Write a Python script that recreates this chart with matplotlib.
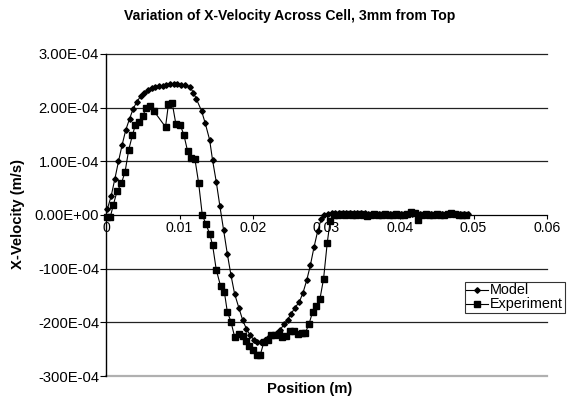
import matplotlib
matplotlib.use("Agg")
import matplotlib.pyplot as plt
from matplotlib.ticker import FixedLocator, FixedFormatter

plt.rcParams['font.family'] = ['Liberation Sans', 'DejaVu Sans']

# ---- data (velocity in units of 1e-4 m/s) ----
model_x = [0.0002, 0.0007, 0.0012, 0.0017, 0.0022, 0.0027, 0.0032, 0.0037, 0.0042, 0.0047,
           0.0052, 0.0057, 0.0062, 0.0067, 0.0072, 0.0077, 0.0082, 0.0087, 0.0092, 0.0097,
           0.0102, 0.0107, 0.0114, 0.0119, 0.0123, 0.0130, 0.0135, 0.0141, 0.0145, 0.0150,
           0.0155, 0.0160, 0.0165, 0.0170, 0.0175, 0.0181, 0.0186, 0.0191, 0.0196, 0.0201,
           0.0206, 0.0211, 0.0216, 0.0222, 0.0227, 0.0232, 0.0237, 0.0242, 0.0247, 0.0252,
           0.0257, 0.0263, 0.0268, 0.0273, 0.0278, 0.0283, 0.0288, 0.0293, 0.0297,
           0.0302, 0.0307, 0.0312, 0.0317, 0.0322, 0.0327, 0.0332, 0.0337, 0.0342, 0.0347,
           0.0352, 0.0357, 0.0362, 0.0367, 0.0372, 0.0377, 0.0382, 0.0387, 0.0392, 0.0397,
           0.0402, 0.0407, 0.0412, 0.0417, 0.0422, 0.0427, 0.0432, 0.0437, 0.0442, 0.0447,
           0.0452, 0.0457, 0.0462, 0.0467, 0.0472, 0.0477, 0.0482, 0.0487, 0.0492]
model_v = [0.12, 0.35, 0.67, 1.00, 1.31, 1.59, 1.79, 1.98, 2.11, 2.21,
           2.28, 2.33, 2.36, 2.38, 2.40, 2.41, 2.43, 2.44, 2.44, 2.45,
           2.43, 2.42, 2.39, 2.28, 2.16, 1.94, 1.71, 1.40, 1.02, 0.62,
           0.16, -0.28, -0.72, -1.12, -1.47, -1.74, -1.96, -2.12, -2.24, -2.32,
           -2.36, -2.36, -2.33, -2.28, -2.23, -2.19, -2.14, -2.04, -1.95, -1.84,
           -1.73, -1.62, -1.45, -1.22, -0.94, -0.60, -0.30, -0.07, 0.00,
           0.02, 0.03, 0.03, 0.04, 0.04, 0.04, 0.03, 0.03, 0.03, 0.03,
           0.03, 0.02, 0.02, 0.02, 0.02, 0.02, 0.02, 0.02, 0.02, 0.02,
           0.02, 0.02, 0.02, 0.02, 0.02, 0.02, 0.02, 0.02, 0.02, 0.02,
           0.02, 0.02, 0.02, 0.02, 0.02, 0.02, 0.02, 0.02, 0.02]

exp_x = [0.0002, 0.0006, 0.0010, 0.0015, 0.0021, 0.0026, 0.0031, 0.0036, 0.0040, 0.0045,
         0.0050, 0.0055, 0.0060, 0.0065, 0.0081, 0.0085, 0.0090, 0.0095, 0.0101, 0.0106,
         0.0111, 0.0116, 0.0121, 0.0126, 0.0131, 0.0136, 0.0141, 0.0145, 0.0150, 0.0156,
         0.0161, 0.0165, 0.0170, 0.0175, 0.0181, 0.0186, 0.0191, 0.0195, 0.0200, 0.0205,
         0.0210, 0.0215, 0.0220, 0.0225, 0.0230, 0.0235, 0.0240, 0.0245, 0.0251, 0.0256,
         0.0261, 0.0266, 0.0271, 0.0276, 0.0281, 0.0286, 0.0291, 0.0296, 0.0301, 0.0305,
         0.0310, 0.0315, 0.0320, 0.0325, 0.0330, 0.0335, 0.0340, 0.0345, 0.0350, 0.0355,
         0.0360, 0.0365, 0.0370, 0.0375, 0.0380, 0.0385, 0.0390, 0.0395, 0.0400, 0.0405,
         0.0410, 0.0415, 0.0420, 0.0425, 0.0430, 0.0435, 0.0440, 0.0445, 0.0450, 0.0455,
         0.0460, 0.0465, 0.0470, 0.0475, 0.0480, 0.0485, 0.0490]
exp_v = [-0.03, -0.03, 0.19, 0.44, 0.59, 0.81, 1.22, 1.49, 1.68, 1.74,
         1.85, 2.00, 2.03, 1.94, 1.64, 2.07, 2.09, 1.70, 1.68, 1.49,
         1.19, 1.07, 1.04, 0.60, 0.00, -0.17, -0.35, -0.56, -1.02, -1.33,
         -1.43, -1.80, -1.99, -2.27, -2.22, -2.25, -2.35, -2.44, -2.52, -2.60,
         -2.60, -2.36, -2.32, -2.24, -2.23, -2.22, -2.27, -2.26, -2.17, -2.17,
         -2.22, -2.19, -2.20, -2.04, -1.81, -1.69, -1.57, -1.19, -0.52, -0.11,
         0.00, 0.00, 0.01, 0.00, 0.01, 0.00, 0.00, 0.01, 0.00, -0.01,
         0.00, 0.01, 0.00, 0.00, 0.01, 0.00, 0.00, 0.01, 0.00, 0.00,
         0.01, 0.06, 0.04, -0.10, 0.00, 0.01, 0.00, 0.00, 0.01, 0.00,
         0.00, 0.01, 0.03, 0.01, 0.00, 0.00, 0.00]

x_ticks = [0, 0.01, 0.02, 0.03, 0.04, 0.05, 0.06]
x_tick_labels = ["0", "0.01", "0.02", "0.03", "0.04", "0.05", "0.06"]
y_ticks = [3, 2, 1, 0, -1, -2, -3]
y_tick_labels = ["3.00E-04", "2.00E-04", "1.00E-04", "0.00E+00", "-100E-04", "-200E-04", "-300E-04"]

scale = 1e-4

fig = plt.figure(figsize=(5.77, 4.0), dpi=100)
ax = fig.add_axes([106/577, 1-376/400, (547-106)/577, (376-54)/400])

ax.set_xlim(0, 0.06)
ax.set_ylim(-3*scale, 3*scale)

for yv in y_ticks:
    if yv == -3:
        ax.axhline(yv*scale, color='#b0b0b0', lw=1.6, zorder=1, clip_on=False)
    elif yv != 0:
        ax.axhline(yv*scale, color='#222222', lw=0.9, zorder=1, clip_on=False)

ax.plot(model_x, [v*scale for v in model_v], color='black', lw=0.8, marker='D',
        markersize=2.8, label='Model', zorder=3, clip_on=False)
ax.plot(exp_x, [v*scale for v in exp_v], color='black', lw=0.8, marker='s',
        markersize=4.4, label='Experiment', zorder=3, clip_on=False)

for s in ['top', 'right']:
    ax.spines[s].set_visible(False)
ax.spines['bottom'].set_position(('data', 0))
ax.spines['bottom'].set_linewidth(0.9)
ax.spines['left'].set_linewidth(1.0)

ax.xaxis.set_major_locator(FixedLocator(x_ticks))
ax.xaxis.set_major_formatter(FixedFormatter(x_tick_labels))
ax.yaxis.set_major_locator(FixedLocator([v*scale for v in y_ticks]))
ax.yaxis.set_major_formatter(FixedFormatter(y_tick_labels))
ax.tick_params(axis='x', direction='out', length=3, width=0.8, labelsize=10.2, pad=1.5)
ax.tick_params(axis='y', direction='out', length=4.5, width=0.8, labelsize=10.6, pad=0.5)
ax.patch.set_alpha(0)

fig.text(290/577, 1-16/400, "Variation of X-Velocity Across Cell, 3mm from Top",
         ha='center', va='center', fontsize=10.1, fontweight='bold')
fig.text(310/577, 1-389/400, "Position (m)", ha='center', va='center',
         fontsize=10.6, fontweight='bold')
fig.text(18/577, 1-214/400, "X-Velocity (m/s)", ha='center', va='center',
         rotation=90, fontsize=10.6, fontweight='bold')

leg = fig.legend(loc='upper left', bbox_to_anchor=(465/577, 1-282/400), frameon=True,
                 fancybox=False, edgecolor='black', fontsize=10.4, handlelength=1.5,
                 handletextpad=0.15, borderpad=0.1, labelspacing=0.0, borderaxespad=0,
                 handleheight=0.6)
leg.get_frame().set_linewidth(0.8)

fig.savefig("out.png", dpi=100)
